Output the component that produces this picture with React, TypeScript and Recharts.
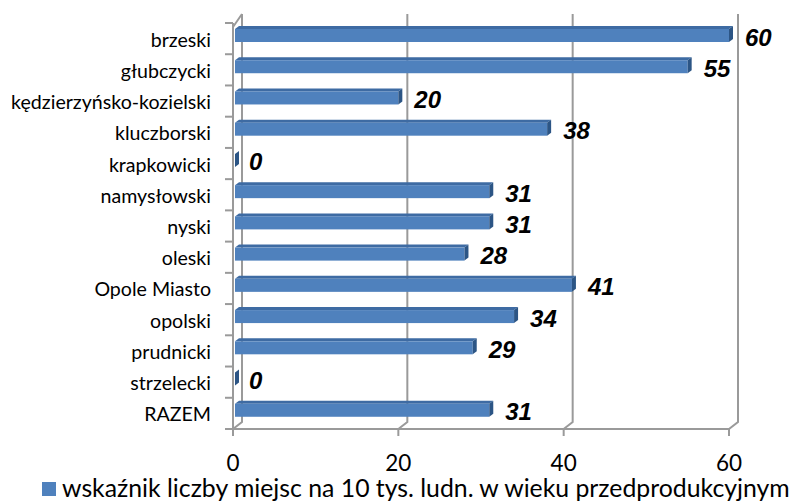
import React from 'react';
import { BarChart, Bar, XAxis, YAxis, CartesianGrid, LabelList, Legend } from 'recharts';

const categories = [
  'brzeski',
  'głubczycki',
  'kędzierzyńsko-kozielski',
  'kluczborski',
  'krapkowicki',
  'namysłowski',
  'nyski',
  'oleski',
  'Opole Miasto',
  'opolski',
  'prudnicki',
  'strzelecki',
  'RAZEM',
];
const values = [60, 55, 20, 38, 0, 31, 31, 28, 41, 34, 29, 0, 31];
const xTicks = [0, 20, 40, 60];
const seriesName = 'wskaźnik liczby miejsc na 10 tys. ludn. w wieku przedprodukcyjnym';

const data = categories.map((name, i) => ({ name, value: values[i] }));

const W = 791;
const H = 501;
const X_AXIS_H = 72;
const M = { top: 23, right: 62, bottom: 0, left: 0 };
const PLOT_LEFT = 233;
const PLOT_TOP = M.top;
const PLOT_BOTTOM = H - X_AXIS_H;
const BAND = (PLOT_BOTTOM - PLOT_TOP) / categories.length;
const DX = 9;
const DY = 8;

const BLUE = '#4F81BD';
const GRID = '#9A9A9A';
const CAL = 'Lato, Calibri, sans-serif';

const Bar3D = (p: any) => {
  const { x, y, width, height } = p;
  const ys = y - 3;
  const x0 = x + 2;
  const w = Math.max(width - 2, 0);
  const d = 4;
  const t = 3;
  return (
    <g>
      <polygon points={`${x0},${ys} ${x0 + w},${ys} ${x0 + w + d},${ys - t} ${x0 + d},${ys - t}`} fill="#3E6BA3" />
      {w > 0 && <rect x={x0} y={ys} width={w} height={height} fill={BLUE} />}
      <polygon
        points={`${x0 + w},${ys} ${x0 + w + d},${ys - t} ${x0 + w + d},${ys + height - t} ${x0 + w},${ys + height}`}
        fill="#2C5585"
      />
    </g>
  );
};

const ValueLabel = (p: any) => {
  const { x, y, width, height, value } = p;
  return (
    <text
      x={x + width + 16}
      y={y + height / 2 + 7}
      fontFamily="'Liberation Sans', Arial, sans-serif"
      fontWeight="bold"
      fontStyle="italic"
      fontSize={24}
      fill="#000"
    >
      {value}
    </text>
  );
};

const CatTick = (p: any) => {
  const { y, payload, index } = p;
  const yb = y - BAND / 2;
  return (
    <g>
      <line x1={PLOT_LEFT - 8} x2={PLOT_LEFT} y1={yb} y2={yb} stroke={GRID} strokeWidth={2} />
      {index === categories.length - 1 && (
        <line x1={PLOT_LEFT - 8} x2={PLOT_LEFT} y1={y + BAND / 2} y2={y + BAND / 2} stroke={GRID} strokeWidth={2} />
      )}
      <text x={PLOT_LEFT - 22} y={y + 8} textAnchor="end" fontFamily={CAL} fontSize={19.6} fill="#000">
        {payload.value}
      </text>
    </g>
  );
};

const XTick = (p: any) => {
  const { x, y, payload } = p;
  return (
    <text x={x} y={y + 35} textAnchor="middle" fontFamily={CAL} fontSize={22.5} fill="#000">
      {payload.value}
    </text>
  );
};

const GridLine = (p: any) => {
  const { x1, y1, y2, index } = p;
  const bx = x1 + DX;
  return (
    <g key={`g-${index}`}>
      <path
        d={`M${bx},${y1 - DY - 1} L${bx},${y2 - DY + 1} L${x1},${y2}`}
        fill="none"
        stroke={GRID}
        strokeWidth={2}
      />
      {index === 0 && (
        <path d={`M${x1},${y1 + 4} L${bx},${y1 - DY - 1}`} fill="none" stroke={GRID} strokeWidth={2} />
      )}
    </g>
  );
};

const LegendContent = () => (
  <div style={{ display: 'flex', alignItems: 'center', fontFamily: CAL, fontSize: 24.8, lineHeight: '18px', height: 18, color: '#000', whiteSpace: 'nowrap' }}>
    <span style={{ display: 'inline-block', width: 14, height: 14, background: BLUE, marginRight: 6, marginTop: 2 }} />
    <span>{seriesName}</span>
  </div>
);

export default function App() {
  return (
    <div style={{ position: 'absolute', left: 0, top: 0, width: W, height: H, background: '#fff' }}>
      <BarChart width={W} height={H} data={data} layout="vertical" margin={M}>
        <CartesianGrid horizontal={false} vertical={GridLine} stroke={GRID} />
        <XAxis
          type="number"
          domain={[0, 60]}
          ticks={xTicks}
          interval={0}
          axisLine={{ stroke: GRID, strokeWidth: 2 }}
          tickLine={{ stroke: GRID, strokeWidth: 2 }}
          tickSize={7}
          tickMargin={0}
          tick={XTick}
          height={X_AXIS_H}
        />
        <YAxis
          type="category"
          dataKey="name"
          width={PLOT_LEFT}
          axisLine={{ stroke: GRID, strokeWidth: 2 }}
          tickLine={false}
          tick={CatTick}
          interval={0}
        />
        <Legend
          layout="horizontal"
          verticalAlign="middle"
          align="center"
          wrapperStyle={{ left: 42, top: 479, width: 760 }}
          content={LegendContent}
        />
        <Bar dataKey="value" name={seriesName} fill={BLUE} barSize={13} shape={Bar3D} isAnimationActive={false}>
          <LabelList dataKey="value" content={ValueLabel} />
        </Bar>
      </BarChart>
    </div>
  );
}
